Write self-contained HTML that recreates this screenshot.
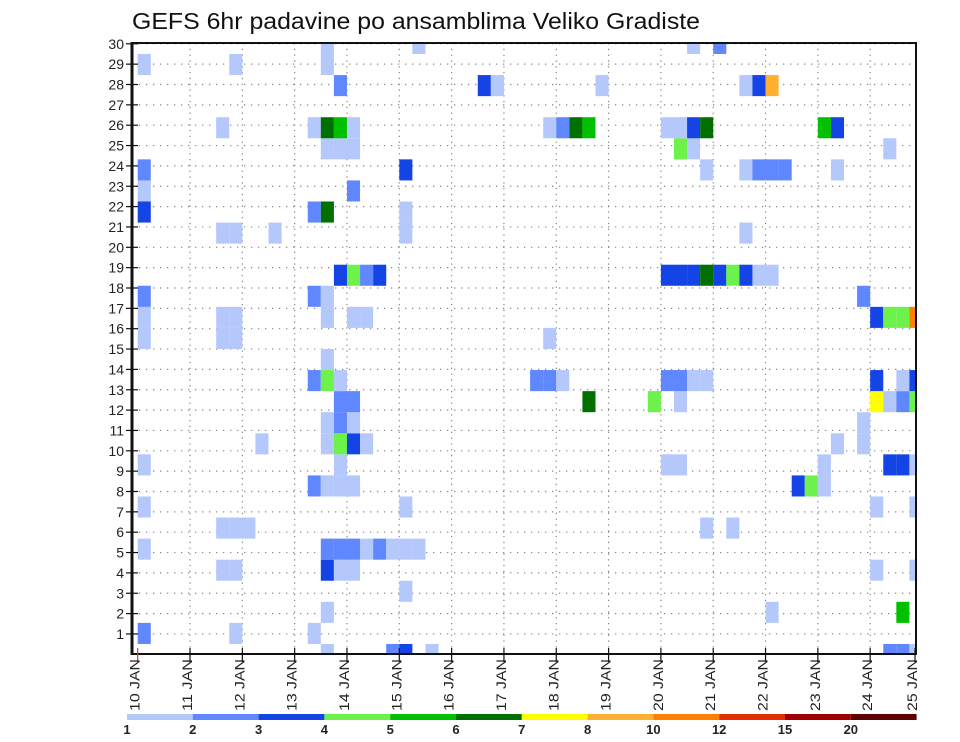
<!DOCTYPE html>
<html><head><meta charset="utf-8">
<style>
html,body{margin:0;padding:0;background:#fff;}
svg{display:block;font-family:"Liberation Sans",sans-serif;}
</style></head>
<body>
<svg id="chart" width="960" height="742" viewBox="0 0 960 742" xmlns="http://www.w3.org/2000/svg">
<text x="132" y="29" font-size="23" fill="#111" textLength="568" lengthAdjust="spacingAndGlyphs">GEFS 6hr padavine po ansamblima Veliko Gradiste</text>
<g id="grid"></g>
<g id="cells" clip-path="url(#plotclip)"></g>
<defs><clipPath id="plotclip"><rect x="132" y="43" width="784" height="611"/></clipPath></defs>
<g id="axes"></g>
<g id="legend"></g>
</svg>
<script>
// ---- data ----
const dayLabels = ["10 JAN","11 JAN","12 JAN","13 JAN","14 JAN","15 JAN","16 JAN","17 JAN","18 JAN","19 JAN","20 JAN","21 JAN","22 JAN","23 JAN","24 JAN","25 JAN"];
const memberLabels = [1,2,3,4,5,6,7,8,9,10,11,12,13,14,15,16,17,18,19,20,21,22,23,24,25,26,27,28,29,30];
const levelLabels = ["1","2","3","4","5","6","7","8","10","12","15","20"];
const levelBounds = [1,2,3,4,5,6,7,8,10,12,15,20,30];
const levelColors = ["#b4c8fb","#5f87ff","#1443e6","#6cf24a","#00c000","#007000","#ffff00","#ffb030","#ff8000","#e03000","#a00000","#600000"];
// precipitation per ensemble member row: [6h step index, mm]
const precipByMember = [
 [[14,1.5],[19,2.5],[20,3.5],[22,1.5],[57,2.5],[58,2.5],[59,1.5]],
 [[0,2.5],[7,1.5],[13,1.5]],
 [[14,1.5],[48,1.5],[58,5.5]],
 [[20,1.5]],
 [[6,1.5],[7,1.5],[14,3.5],[15,1.5],[16,1.5],[56,1.5],[59,1.5]],
 [[0,1.5],[14,2.5],[15,2.5],[16,2.5],[17,1.5],[18,2.5],[19,1.5],[20,1.5],[21,1.5]],
 [[6,1.5],[7,1.5],[8,1.5],[43,1.5],[45,1.5]],
 [[0,1.5],[20,1.5],[56,1.5],[59,1.5]],
 [[13,2.5],[14,1.5],[15,1.5],[16,1.5],[50,3.5],[51,4.5],[52,1.5]],
 [[0,1.5],[15,1.5],[40,1.5],[41,1.5],[52,1.5],[57,3.5],[58,3.5],[59,1.5]],
 [[9,1.5],[14,1.5],[15,4.5],[16,3.5],[17,1.5],[53,1.5],[55,1.5]],
 [[14,1.5],[15,2.5],[16,1.5],[55,1.5]],
 [[15,2.5],[16,2.5],[34,6.5],[39,4.5],[41,1.5],[56,7.5],[57,1.5],[58,2.5],[59,4.5]],
 [[13,2.5],[14,4.5],[15,1.5],[30,2.5],[31,2.5],[32,1.5],[40,2.5],[41,2.5],[42,1.5],[43,1.5],[56,3.5],[58,1.5],[59,3.5]],
 [[14,1.5]],
 [[0,1.5],[6,1.5],[7,1.5],[31,1.5]],
 [[0,1.5],[6,1.5],[7,1.5],[14,1.5],[16,1.5],[17,1.5],[56,3.5],[57,4.5],[58,4.5],[59,11]],
 [[0,2.5],[13,2.5],[14,1.5],[55,2.5]],
 [[15,3.5],[16,4.5],[17,2.5],[18,3.5],[40,3.5],[41,3.5],[42,3.5],[43,6.5],[44,3.5],[45,4.5],[46,3.5],[47,1.5],[48,1.5]],
 [],
 [[6,1.5],[7,1.5],[10,1.5],[20,1.5],[46,1.5]],
 [[0,3.5],[13,2.5],[14,6.5],[20,1.5]],
 [[0,1.5],[16,2.5]],
 [[0,2.5],[20,3.5],[43,1.5],[46,1.5],[47,2.5],[48,2.5],[49,2.5],[53,1.5]],
 [[14,1.5],[15,1.5],[16,1.5],[41,4.5],[42,1.5],[57,1.5]],
 [[6,1.5],[13,1.5],[14,6.5],[15,5.5],[16,1.5],[31,1.5],[32,2.5],[33,6.5],[34,5.5],[40,1.5],[41,1.5],[42,3.5],[43,6.5],[52,5.5],[53,3.5]],
 [],
 [[15,2.5],[26,3.5],[27,1.5],[35,1.5],[46,1.5],[47,3.5],[48,9]],
 [[0,1.5],[7,1.5],[14,1.5]],
 [[14,1.5],[21,1.5],[42,1.5],[44,2.5]]
];
// ---- scales ----
const NS="http://www.w3.org/2000/svg";
const X0=137.7, STEP=13.08, PL=132, PR=916, PT=43, PB=654;
function xStep(k){return X0+STEP*k;}
function xDay(d){return X0+STEP*4*d;}
function yCell(c){return 654.5-21.07*c;}
function yLabel(n){return 654.3-20.35*n;}
function colorFor(v){for(let i=0;i<levelColors.length;i++){if(v<levelBounds[i+1])return levelColors[i];}return levelColors[levelColors.length-1];}
function mk(tag,attrs,parent){const e=document.createElementNS(NS,tag);for(const a in attrs)e.setAttribute(a,attrs[a]);parent.appendChild(e);return e;}
const grid=document.getElementById('grid'),cells=document.getElementById('cells'),axes=document.getElementById('axes'),legend=document.getElementById('legend');
// grid
memberLabels.forEach(n=>{const g=mk('line',{x1:PL,x2:PR,y1:yLabel(n),y2:yLabel(n),stroke:'#888','stroke-width':1.2,'stroke-dasharray':'1.3,5.7'},grid);

});
dayLabels.forEach((d,i)=>{if(i===0)return;const x=xDay(i);if(x>PR)return;const g=mk('line',{x1:x,x2:x,y1:PT,y2:PB,stroke:'#888','stroke-width':1.2,'stroke-dasharray':'1.3,4.5'},grid);

});
// cells
precipByMember.forEach((row,c)=>{row.forEach(([k,v])=>{const r=mk('rect',{x:xStep(k),y:yCell(c)-10.535,width:STEP,height:21.07,fill:colorFor(v)},cells);

});});
// frame
const f=mk('rect',{x:PL,y:PT,width:PR-PL,height:PB-PT,fill:'none',stroke:'#111','stroke-width':2},axes);


mk('line',{x1:PL,x2:PL,y1:PT-1,y2:PB+1,stroke:'#111','stroke-width':3},axes);
// y labels
memberLabels.forEach(n=>{const y=yLabel(n);
mk('line',{x1:PL-6,x2:PL+6,y1:y,y2:y,stroke:'#111','stroke-width':1.2},axes);
const t=mk('text',{x:124,y:y+5,'font-size':14,'text-anchor':'end',fill:'#222'},axes);t.textContent=n;

});
// x labels
dayLabels.forEach((d,i)=>{let x=xDay(i);if(x>PR)x=PR-1;
mk('line',{x1:x,x2:x,y1:PB-6,y2:PB+8,stroke:i===0?'#c44':'#111','stroke-width':1.2},axes);
const t=mk('text',{x:0,y:0,'font-size':14,'text-anchor':'end',fill:'#222',textLength:52,lengthAdjust:'spacingAndGlyphs',transform:`translate(${x+2},${659}) rotate(-90)`},axes);t.textContent=d;

});
// legend
const LW=65.8;
levelColors.forEach((col,i)=>{const r=mk('rect',{x:127+LW*i,y:714,width:LW,height:6,fill:col},legend);

});
levelLabels.forEach((l,i)=>{const t=mk('text',{x:127+LW*i,y:734,'font-size':13,'font-weight':'bold','text-anchor':'middle',fill:'#222'},legend);t.textContent=l;

});
</script>
</body></html>
